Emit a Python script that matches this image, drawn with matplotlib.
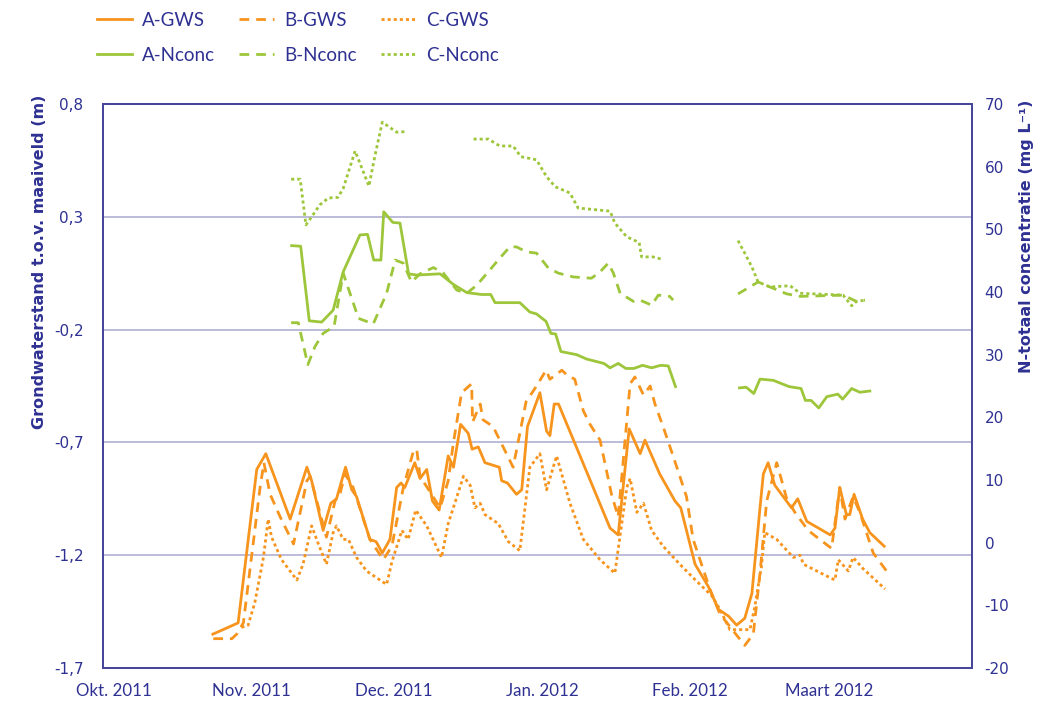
import numpy as np
import matplotlib
matplotlib.use('Agg')
import matplotlib.pyplot as plt
import matplotlib.dates as mdates
import datetime as dt

plt.rcParams['axes.unicode_minus'] = False

nan = np.nan
start = dt.date(2011, 10, 1)

# x values: days since 1 Oct 2011 (nan = break in the line)
a_gws_day = [23.0, 26.2, 28.3, 32.2, 34.1, 39.2, 42.7, 43.7, 46.1, 47.7,
             48.9, 50.8, 52.1, 53.1, 55.9, 57.2, 58.5, 60.1, 61.5, 62.4,
             63.2, 65.3, 66.4, 67.8, 69.0, 70.4, 72.3, 73.4, 74.9, 76.5,
             77.3, 78.6, 80.0, 83.0, 83.5, 84.7, 86.6, 87.7, 88.9, 91.5,
             92.9, 93.6, 94.5, 95.4, 106.2, 107.9, 110.2, 112.5, 113.5, 116.6,
             119.8, 121.0, 124.0, 126.8, 128.9, 131.0, 132.7, 134.4, 135.9, 137.6,
             138.3, 139.3, 140.7, 144.2, 145.5, 147.4, 152.3, 153.3, 154.3, 155.7,
             156.4, 157.3, 159.1, 160.6, 163.6]
a_gws = [-1.55, -1.52, -1.50, -0.82, -0.75, -1.04, -0.81, -0.87, -1.09, -0.97,
         -0.95, -0.81, -0.91, -0.94, -1.13, -1.14, -1.19, -1.13, -0.90, -0.88,
         -0.90, -0.79, -0.86, -0.82, -0.96, -1.00, -0.76, -0.81, -0.62, -0.66,
         -0.73, -0.72, -0.79, -0.81, -0.87, -0.88, -0.93, -0.91, -0.63, -0.48,
         -0.65, -0.67, -0.53, -0.53, -1.08, -1.11, -0.64, -0.75, -0.69, -0.84,
         -0.96, -0.99, -1.24, -1.34, -1.44, -1.47, -1.51, -1.48, -1.37, -0.99,
         -0.84, -0.79, -0.89, -0.99, -0.95, -1.05, -1.11, -1.08, -0.90, -1.02,
         -1.02, -0.93, -1.04, -1.10, -1.16]

b_gws_day = [23.1, 27.0, 28.0, 29.4, 32.9, 33.7, 35.0, 37.1, 39.9, 40.9,
             42.7, 43.4, 46.8, 48.6, 49.6, 50.7, 52.4, 55.9, 58.7, 60.5,
             62.9, 65.0, 65.7, 66.4, 70.6, 72.3, 73.4, 75.1, 77.2, 77.4,
             79.0, 79.6, 81.7, 85.9, 88.6, 90.8, 92.8, 93.6, 96.1, 97.1,
             98.8, 100.6, 102.0, 104.1, 106.5, 107.9, 110.4, 111.4, 113.2, 114.6,
             115.6, 117.3, 119.4, 120.8, 122.2, 123.6, 127.1, 129.2, 134.4, 136.2,
             137.6, 139.0, 141.1, 143.2, 144.9, 147.7, 149.5, 152.6, 153.6, 154.3,
             155.4, 157.1, 158.5, 161.3, 164.1]
b_gws = [-1.57, -1.57, -1.55, -1.50, -0.90, -0.79, -0.93, -1.03, -1.15, -1.05,
         -0.87, -0.85, -1.12, -0.96, -0.93, -0.84, -0.90, -1.13, -1.22, -1.16,
         -0.90, -0.74, -0.73, -0.85, -0.99, -0.87, -0.70, -0.48, -0.44, -0.61,
         -0.53, -0.60, -0.63, -0.81, -0.52, -0.45, -0.38, -0.42, -0.38, -0.40,
         -0.42, -0.56, -0.62, -0.69, -0.93, -1.03, -0.44, -0.41, -0.49, -0.45,
         -0.53, -0.63, -0.76, -0.85, -0.94, -1.13, -1.35, -1.46, -1.60, -1.55,
         -1.28, -0.96, -0.79, -0.95, -1.01, -1.09, -1.12, -1.17, -1.01, -0.90,
         -1.04, -0.94, -1.01, -1.19, -1.27]

c_gws_day = [29.0, 30.4, 31.8, 33.6, 34.6, 35.3, 37.4, 40.6, 41.9, 43.7,
             45.1, 46.8, 48.2, 48.9, 50.3, 51.4, 53.1, 55.2, 58.0, 59.4,
             60.5, 62.6, 63.9, 65.5, 67.8, 70.9, 72.3, 75.5, 76.9, 77.9,
             79.0, 80.0, 82.8, 84.9, 87.3, 89.4, 91.5, 92.9, 95.0, 97.8,
             100.6, 104.1, 107.2, 109.7, 110.4, 111.8, 113.2, 114.9, 117.3, 120.8,
             123.6, 127.5, 129.2, 131.3, 135.5, 136.5, 137.9, 138.6, 141.1, 144.6,
             146.0, 146.7, 152.3, 153.3, 154.0, 156.1, 157.1, 159.2, 163.8]
c_gws = [-1.52, -1.51, -1.41, -1.21, -1.04, -1.12, -1.22, -1.31, -1.24, -1.07,
         -1.15, -1.24, -1.10, -1.07, -1.13, -1.13, -1.21, -1.27, -1.31, -1.33,
         -1.23, -1.09, -1.13, -1.00, -1.07, -1.21, -1.06, -0.85, -0.89, -0.99,
         -0.97, -1.02, -1.06, -1.14, -1.18, -0.81, -0.75, -0.91, -0.76, -0.97,
         -1.13, -1.22, -1.28, -0.90, -0.86, -1.01, -0.97, -1.09, -1.16, -1.24,
         -1.30, -1.38, -1.44, -1.53, -1.53, -1.43, -1.25, -1.10, -1.13, -1.21,
         -1.20, -1.24, -1.30, -1.31, -1.22, -1.27, -1.21, -1.26, -1.35]

a_n_day = [39.5, 41.4, 43.2, 45.8, 48.2, 50.3, 53.8, 55.4, 56.7, 58.2,
           58.8, 60.7, 62.2, 64.0, 65.7, 70.6, 73.4, 76.2, 79.3, 81.2,
           82.1, 87.3, 89.4, 90.8, 92.8, 93.8, 94.8, 95.9, 99.2, 101.3,
           104.9, 106.2, 107.9, 109.5, 111.2, 113.0, 114.9, 116.8, 118.4, 119.9,
           nan,
           133.3, 134.7, 136.3, 137.6, 140.4, 143.7, 146.2, 147.1, 148.3, 149.9,
           151.6, 153.9, 154.9, 156.8, 158.5, 160.6]
a_n = [47.4, 47.3, 35.4, 35.2, 37.1, 43.2, 49.1, 49.2, 45.1, 45.1,
       52.8, 51.1, 51.0, 42.9, 42.7, 42.9, 41.2, 39.9, 39.6, 39.6,
       38.3, 38.3, 36.8, 36.5, 35.3, 33.4, 33.3, 30.5, 30.0, 29.3,
       28.6, 27.9, 28.6, 27.8, 27.8, 28.3, 27.9, 28.3, 28.2, 24.9,
       nan,
       24.7, 24.8, 23.8, 26.1, 25.9, 24.9, 24.6, 22.7, 22.7, 21.5,
       23.3, 23.7, 22.9, 24.6, 24.0, 24.2]

b_n_day = [39.4, 40.9, 42.9, 44.4, 46.1, 48.4, 50.3, 53.5, 56.6, 59.4,
           61.2, 62.9, 64.6, 66.4, 69.2, 71.3, 74.1, 76.2, 78.3, 81.0,
           83.1, 85.2, 86.6, 88.7, 90.8, 93.3, 95.4, 98.5, 102.3, 104.1,
           105.8, 106.9, 108.3, 111.1, 112.5, 114.9, 116.3, 118.7, 119.4,
           nan,
           133.0, 135.9, 137.2, 139.7, 143.2, 146.0, 155.0, 157.8, 159.6]
b_n = [35.1, 35.1, 28.4, 31.3, 33.4, 34.5, 43.0, 35.8, 34.9, 39.8,
       45.1, 44.6, 41.6, 42.9, 43.9, 43.0, 40.3, 39.8, 41.1, 43.5,
       45.4, 47.2, 47.2, 46.4, 46.2, 43.8, 43.0, 42.4, 42.2, 43.2,
       44.6, 43.0, 39.8, 38.5, 38.7, 37.9, 39.5, 39.3, 38.7,
       nan,
       39.7, 41.0, 41.6, 40.8, 39.7, 39.3, 39.5, 38.5, 38.7]

c_n_day = [39.4, 41.3, 42.5, 43.7, 45.4, 47.2, 49.2, 50.3, 52.8, 55.7, 57.0, 58.5, 61.5, 63.5,
           nan,
           77.6, 80.7, 83.1, 85.9, 87.5, 90.8, 92.9, 94.7, 97.8, 99.5, 106.2, 107.2,
           109.7, 112.3, 112.8, 115.2, 117.2,
           nan,
           133.0, 134.4, 135.9, 137.2, 139.7, 143.9, 146.0, 155.0, 156.8, 157.8, 159.6]
c_n = [58.0, 58.0, 50.7, 52.0, 53.9, 55.0, 55.1, 56.5, 62.5, 56.9, 61.9, 67.1, 65.5, 65.6,
       nan,
       64.4, 64.4, 63.3, 63.3, 61.6, 61.1, 58.4, 56.8, 55.8, 53.4, 52.9, 51.0,
       48.8, 47.9, 45.6, 45.6, 45.2,
       nan,
       48.2, 46.2, 44.0, 41.6, 40.8, 41.0, 39.8, 39.5, 37.8, 38.5, 38.7]

month_labels = ['Okt. 2011', 'Nov. 2011', 'Dec. 2011', 'Jan. 2012', 'Feb. 2012', 'Maart 2012']
month_starts = [dt.date(2011, 10, 1), dt.date(2011, 11, 1), dt.date(2011, 12, 1),
                dt.date(2012, 1, 1), dt.date(2012, 2, 1), dt.date(2012, 3, 1)]
left_ticks = [-1.7, -1.2, -0.7, -0.2, 0.3, 0.8]
right_ticks = [-20, -10, 0, 10, 20, 30, 40, 50, 60, 70]

orange = '#F7941D'
green = '#9DC63B'
navy = '#2E3192'
spine = '#45459A'
grid = '#BDBBDA'
narrow = ['Lato', 'DejaVu Sans']

t0 = mdates.date2num(start)


def xs(days):
    return t0 + np.array(days, dtype=float)


fig = plt.figure(figsize=(10.63, 7.06), dpi=100)
ax = fig.add_axes([103 / 1063, 1 - 668 / 706, (972 - 103) / 1063, (668 - 104) / 706])
ax2 = ax.twinx()

lw = 2.0
dash = (0, (3.5, 2.5))
dot = (0, (1.1, 1.1))

h1, = ax.plot(xs(a_gws_day), a_gws, color=orange, lw=lw, label='A-GWS')
h2, = ax.plot(xs(b_gws_day), b_gws, color=orange, lw=lw, ls=dash, label='B-GWS')
h3, = ax.plot(xs(c_gws_day), c_gws, color=orange, lw=lw, ls=dot, label='C-GWS')
h4, = ax2.plot(xs(a_n_day), a_n, color=green, lw=lw, label='A-Nconc')
h5, = ax2.plot(xs(b_n_day), b_n, color=green, lw=lw, ls=dash, label='B-Nconc')
h6, = ax2.plot(xs(c_n_day), c_n, color=green, lw=lw, ls=dot, label='C-Nconc')

ax.set_xlim(t0, t0 + 182)
ax.set_ylim(-1.7, 0.8)
ax2.set_ylim(-20, 70)

ax.set_yticks(left_ticks)
ax.set_yticklabels([f'{v:.1f}'.replace('.', ',') for v in left_ticks])
ax2.set_yticks(right_ticks)
# the first label is drawn a little right of the axis corner (ticks are invisible)
tick_pos = [mdates.date2num(d) for d in month_starts]
tick_pos[0] += 2.2
ax.set_xticks(tick_pos)
ax.set_xticklabels(month_labels, family=narrow)

ax.yaxis.grid(True, color=grid, lw=1.4)
ax.set_axisbelow(True)

for a in (ax, ax2):
    for s in a.spines.values():
        s.set_color(spine)
        s.set_linewidth(1.3)
    a.tick_params(length=0, colors=navy, labelsize=11)
ax.tick_params(axis='x', labelsize=12.2, pad=11)
ax.tick_params(axis='y', pad=14)
ax2.tick_params(axis='y', pad=9)

ax.set_ylabel('Grondwaterstand t.o.v. maaiveld (m)', color=navy, fontsize=11.5,
              fontweight='bold')
ax2.set_ylabel('N-totaal concentratie (mg L\u207b\u00b9)', color=navy, fontsize=11.5,
               fontweight='bold')
ax.yaxis.set_label_coords(-0.065, 0.72)
ax2.yaxis.set_label_coords(1.054, 0.766)

leg = fig.legend(handles=[h1, h4, h2, h5, h3, h6], ncol=3, loc='upper left',
                 bbox_to_anchor=(97 / 1063, 1 - 12 / 706), frameon=False,
                 prop={'family': narrow, 'size': 13.5},
                 handlelength=1.85, handletextpad=0.55, columnspacing=1.3,
                 labelspacing=0.95, borderpad=0, borderaxespad=0)
for t in leg.get_texts():
    t.set_color(navy)

fig.savefig('out.png', dpi=100)
